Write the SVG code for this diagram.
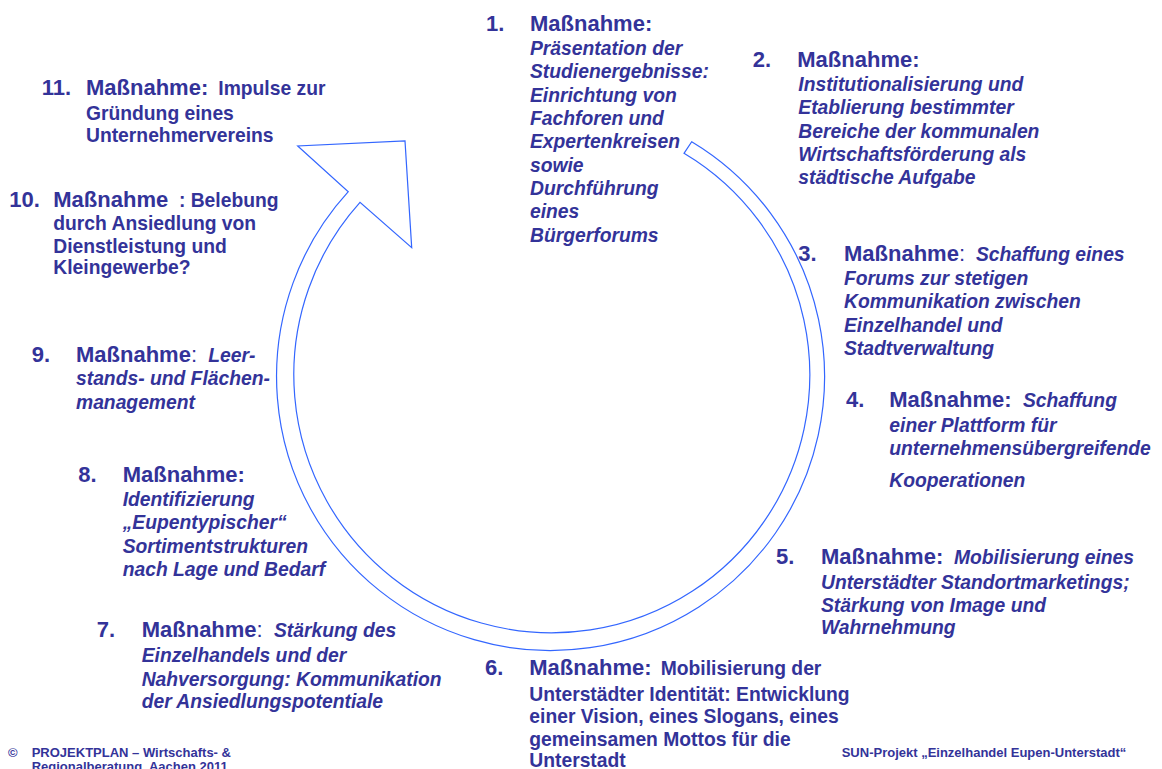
<svg xmlns="http://www.w3.org/2000/svg" width="1162" height="769" viewBox="0 0 1162 769">
<style>
text{font-family:"Liberation Sans",Arial,sans-serif;font-weight:bold;fill:#333399}
.h{font-size:22px}
.b{font-size:19.3px;font-style:italic}
.n{font-size:19.3px;font-style:normal}
.r{font-weight:normal}
.f{font-size:13px}
.arrow{fill:#ffffff;stroke:#3366ff;stroke-width:1.2}
</style>
<rect width="1162" height="769" fill="#ffffff"/>
<g id="connectors">
<path class="arrow" d="M 691.7 141.7 A 274 274 0 1 1 348.3 191.7 L 297.7 146 L 405 141 L 411.7 247.7 L 360 202.3 A 258 258 0 1 0 684 153.3 Z"/>
</g>
<g id="m1">
<text class="h" x="486" y="31">1.</text>
<text class="h" x="530" y="31">Maßnahme:</text>
<text class="b" x="530" y="55">Präsentation der</text>
<text class="b" x="530" y="78.3">Studienergebnisse:</text>
<text class="b" x="530" y="101.6">Einrichtung von</text>
<text class="b" x="530" y="125">Fachforen und</text>
<text class="b" x="530" y="148.3">Expertenkreisen</text>
<text class="b" x="530" y="171.6">sowie</text>
<text class="b" x="530" y="195">Durchführung</text>
<text class="b" x="530" y="218.3">eines</text>
<text class="b" x="530" y="241.6">Bürgerforums</text>
</g>
<g id="m2">
<text class="h" x="752.7" y="66.7">2.</text>
<text class="h" x="797.3" y="66.7">Maßnahme:</text>
<text class="b" x="798.3" y="91">Institutionalisierung und</text>
<text class="b" x="798.3" y="114.3">Etablierung bestimmter</text>
<text class="b" x="798.3" y="137.7">Bereiche der kommunalen</text>
<text class="b" x="798.3" y="161">Wirtschaftsförderung als</text>
<text class="b" x="798.3" y="184.3">städtische Aufgabe</text>
</g>
<g id="m3">
<text class="h" x="798.3" y="260.7">3.</text>
<text class="h" x="844" y="260.7">Maßnahme<tspan class="r">:</tspan></text>
<text class="b" x="976" y="260.7">Schaffung eines</text>
<text class="b" x="844" y="285">Forums zur stetigen</text>
<text class="b" x="844" y="308.3">Kommunikation zwischen</text>
<text class="b" x="844" y="331.7">Einzelhandel und</text>
<text class="b" x="844" y="355">Stadtverwaltung</text>
</g>
<g id="m4">
<text class="h" x="846" y="407.3">4.</text>
<text class="h" x="889.3" y="407.3">Maßnahme:</text>
<text class="b" x="1023" y="407.3">Schaffung</text>
<text class="b" x="889.3" y="432.3">einer Plattform für</text>
<text class="b" x="889.3" y="455">unternehmensübergreifende</text>
<text class="b" x="889.3" y="487.3">Kooperationen</text>
</g>
<g id="m5">
<text class="h" x="776" y="564">5.</text>
<text class="h" x="821" y="564">Maßnahme:</text>
<text class="b" x="954" y="564">Mobilisierung eines</text>
<text class="b" x="821" y="589">Unterstädter Standortmarketings;</text>
<text class="b" x="821" y="611.7">Stärkung von Image und</text>
<text class="b" x="821" y="634.3">Wahrnehmung</text>
</g>
<g id="m6">
<text class="h" x="485" y="675">6.</text>
<text class="h" x="529.3" y="675">Maßnahme:</text>
<text class="n" x="660.7" y="675">Mobilisierung der</text>
<text class="n" x="529.3" y="700.7">Unterstädter Identität: Entwicklung</text>
<text class="n" x="529.3" y="723.3">einer Vision, eines Slogans, eines</text>
<text class="n" x="529.3" y="746">gemeinsamen Mottos für die</text>
<text class="n" x="529.3" y="766.5">Unterstadt</text>
</g>
<g id="m7">
<text class="h" x="96.7" y="637.3">7.</text>
<text class="h" x="141.7" y="637.3">Maßnahme<tspan class="r">:</tspan></text>
<text class="b" x="274" y="637.3">Stärkung des</text>
<text class="b" x="141.7" y="661.7">Einzelhandels und der</text>
<text class="b" x="141.7" y="685.5">Nahversorgung: Kommunikation</text>
<text class="b" x="141.7" y="708.3">der Ansiedlungspotentiale</text>
</g>
<g id="m8">
<text class="h" x="78.3" y="481.7">8.</text>
<text class="h" x="122.7" y="481.7">Maßnahme:</text>
<text class="b" x="122.7" y="506.3">Identifizierung</text>
<text class="b" x="122.7" y="529.3">„Eupentypischer“</text>
<text class="b" x="122.7" y="552.7">Sortimentstrukturen</text>
<text class="b" x="122.7" y="576">nach Lage und Bedarf</text>
</g>
<g id="m9">
<text class="h" x="31.7" y="361.7">9.</text>
<text class="h" x="76" y="361.7">Maßnahme<tspan class="r">:</tspan></text>
<text class="b" x="208.3" y="361.7">Leer-</text>
<text class="b" x="76" y="385">stands- und Flächen-</text>
<text class="b" x="76" y="408.7">management</text>
</g>
<g id="m10">
<text class="h" x="9.3" y="206.7">10.</text>
<text class="h" x="53.3" y="206.7">Maßnahme</text>
<text class="n" x="179" y="206.7">:</text>
<text class="n" x="190.7" y="206.7">Belebung</text>
<text class="n" x="53.3" y="230">durch Ansiedlung von</text>
<text class="n" x="53.3" y="253.3">Dienstleistung und</text>
<text class="n" x="53.3" y="274.3">Kleingewerbe?</text>
</g>
<g id="m11">
<text class="h" x="41.7" y="95">11.</text>
<text class="h" x="86" y="95">Maßnahme:</text>
<text class="n" x="218.3" y="95">Impulse zur</text>
<text class="n" x="86" y="120">Gründung eines</text>
<text class="n" x="86" y="141.7">Unternehmervereins</text>
</g>
<g id="footer">
<text class="f" x="8" y="757">©</text>
<text class="f" x="31.7" y="757">PROJEKTPLAN – Wirtschafts- &amp;</text>
<text class="f" x="31.7" y="771">Regionalberatung, Aachen 2011</text>
<text class="f" x="841.7" y="757.3">SUN-Projekt „Einzelhandel Eupen-Unterstadt“</text>
</g>
</svg>
